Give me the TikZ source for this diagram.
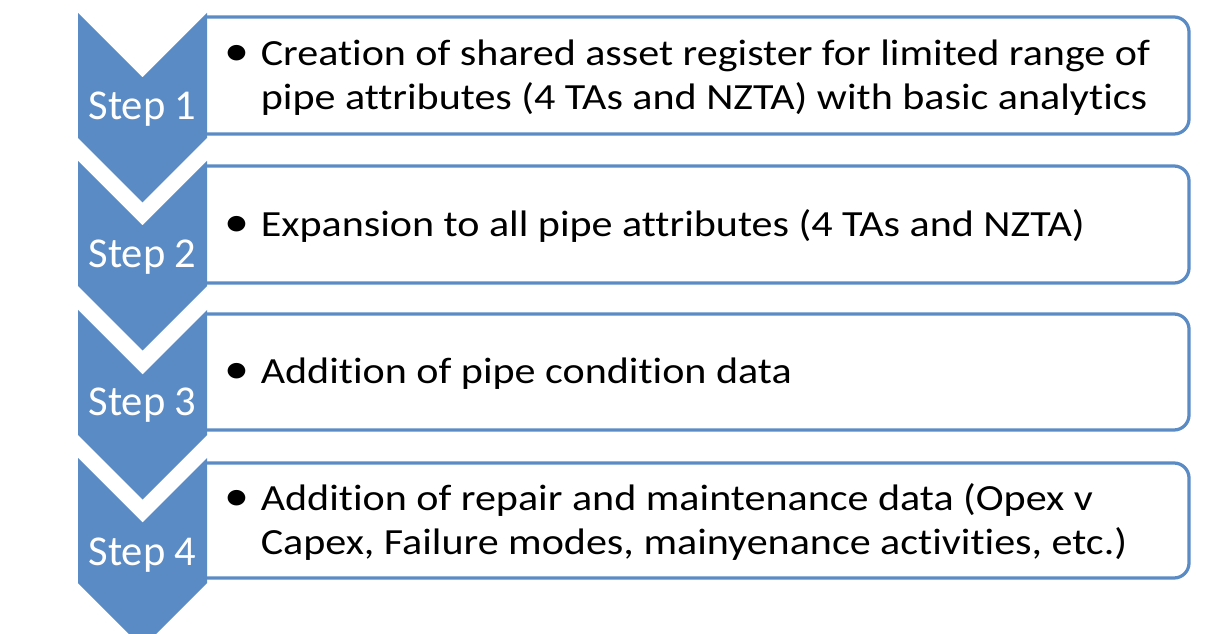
\documentclass[tikz,border=0pt]{standalone}
\usepackage{fontspec}
\setmainfont[Ligatures=NoCommon]{Carlito}
\newfontfamily\itemfont[FakeStretch=1.14,Ligatures=NoCommon]{Carlito}
\usepackage{xcolor}
\definecolor{stepblue}{RGB}{91,139,197}
\usepackage{tikz}
\usetikzlibrary{positioning}

\newcommand{\itembullet}{{\fontsize{25}{25}\selectfont\textbullet}}

\begin{document}
\begin{tikzpicture}[x=0.02cm,y=-0.02cm,
  stepbox/.style={draw=stepblue,line width=0.065cm,rounded corners=0.3cm},
  chevron/.style={fill=stepblue,draw=none},
  steplabel/.style={text=white,anchor=base,inner sep=0pt,font=\fontsize{24.2}{29}\selectfont},
  itemtext/.style={text=black,anchor=west,inner sep=0pt,font=\itemfont\fontsize{21}{25}\selectfont}]
  \useasboundingbox (0,0) rectangle (1216,634);

  %% boxes (open on the left, the chevron closes them)
  \draw[stepbox] (207,17) -- (1189,17) -- (1189,134) -- (207,134);
  \draw[stepbox] (207,166) -- (1189,166) -- (1189,283) -- (207,283);
  \draw[stepbox] (207,314) -- (1189,314) -- (1189,430) -- (207,430);
  \draw[stepbox] (207,463) -- (1189,463) -- (1189,578) -- (207,578);

  %% chevrons
  \fill[chevron] (78,13) -- (142.5,77.5) -- (207,13) -- (207,138) -- (142.5,202.5) -- (78,138) -- cycle;
  \fill[chevron] (78,161) -- (142.5,225.5) -- (207,161) -- (207,286) -- (142.5,350.5) -- (78,286) -- cycle;
  \fill[chevron] (78,310) -- (142.5,374.5) -- (207,310) -- (207,435) -- (142.5,499.5) -- (78,435) -- cycle;
  \fill[chevron] (78,458) -- (142.5,522.5) -- (207,458) -- (207,583) -- (142.5,647.5) -- (78,583) -- cycle;

  \node[steplabel] (step1) at (142.5,120) {Step 1};
  \node[steplabel] (step2) at (142.5,268) {Step 2};
  \node[steplabel] (step3) at (142.5,416) {Step 3};
  \node[steplabel] (step4) at (142.5,565) {Step 4};

  \node[itemtext] (task1) at (224,78.5) {\begin{tabular}{@{}l@{\hspace{0.23cm}}l@{}}
      \itembullet & Creation of shared asset register for limited range of\\
      & pipe attributes (4 TAs and NZTA) with basic analytics
    \end{tabular}};
  \node[itemtext] (task2) at (224,227.5) {\begin{tabular}{@{}l@{\hspace{0.23cm}}l@{}}
      \itembullet & Expansion to all pipe attributes (4 TAs and NZTA)
    \end{tabular}};
  \node[itemtext] (task3) at (224,375) {\begin{tabular}{@{}l@{\hspace{0.23cm}}l@{}}
      \itembullet & Addition of pipe condition data
    \end{tabular}};
  \node[itemtext] (task4) at (224,523.5) {\begin{tabular}{@{}l@{\hspace{0.23cm}}l@{}}
      \itembullet & Addition of repair and maintenance data (Opex v\\
      & Capex, Failure modes, mainyenance activities, etc.)
    \end{tabular}};
\end{tikzpicture}
\end{document}
